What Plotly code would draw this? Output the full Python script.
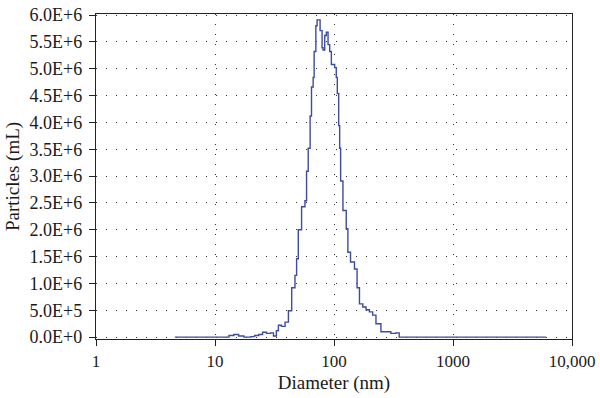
import plotly.graph_objects as go

# Diameter (nm) and particle concentration (millions per mL)
diameter_nm = [4.6, 12.0, 13.1, 14.4, 15.8, 17.5, 20.0, 21.5, 23.3, 25.1,
               27.1, 29.3, 31.0, 32.8, 34.1, 36.2, 38.8, 41.4, 44.1, 47.0,
               48.5, 50.1, 53.4, 57.0, 58.8, 60.7, 63.0, 64.7, 66.8, 68.1,
               70.4, 72.1, 74.2, 76.4, 79.4, 80.9, 83.6, 86.2, 89.1, 92.0,
               95.0, 101.3, 104.5, 106.6, 109.5, 111.6, 113.7, 118.9, 126.7, 130.8,
               137.7, 148.6, 156.3, 163.7, 174.6, 185.9, 198.3, 211.3, 225.2, 247.9,
               272.9, 300.4, 330.6, 353.0, 501.0, 6050.0]
particles_millions = [0, 0, 0.03, 0.05, 0.02, 0, 0.01, 0.03, 0.05, 0.09,
                      0.07, 0.08, 0.02, 0.12, 0.22, 0.20, 0.28, 0.49, 0.92, 1.15,
                      1.46, 2.00, 2.43, 2.54, 3.09, 3.52, 4.12, 4.66, 4.84, 5.32,
                      5.80, 5.91, 5.91, 5.71, 5.39, 5.35, 5.62, 5.68, 5.45, 5.32,
                      5.08, 5.02, 4.84, 4.54, 3.94, 3.52, 2.91, 2.36, 2.02, 1.58,
                      1.40, 1.27, 0.92, 0.62, 0.56, 0.51, 0.47, 0.41, 0.25, 0.10,
                      0.10, 0.07, 0.08, 0.0, 0.0, 0.0]

x_tick_vals = [1, 10, 100, 1000, 10000]
x_tick_text = ["1", "10", "100", "1000", "10,000"]
y_tick_vals = [0, 0.5, 1.0, 1.5, 2.0, 2.5, 3.0, 3.5, 4.0, 4.5, 5.0, 5.5, 6.0]
y_tick_text = ["0.0E+0", "5.0E+5", "1.0E+6", "1.5E+6", "2.0E+6", "2.5E+6", "3.0E+6",
               "3.5E+6", "4.0E+6", "4.5E+6", "5.0E+6", "5.5E+6", "6.0E+6"]

FONT = "Liberation Serif, Times New Roman, serif"

fig = go.Figure()
fig.add_trace(go.Scatter(
    x=diameter_nm, y=particles_millions, mode="lines",
    line=dict(color="#3d4c9e", width=1.4, shape="hv"),
    showlegend=False, hoverinfo="skip"))

fig.update_layout(
    width=600, height=398,
    margin=dict(l=96, r=22, t=5, b=59),
    paper_bgcolor="white", plot_bgcolor="white",
    font=dict(family=FONT, size=17, color="#1a1a1a"),
)
fig.update_xaxes(
    type="log", range=[0, 4],
    tickvals=x_tick_vals, ticktext=x_tick_text,
    tickfont=dict(size=17), ticklabeloverflow="allow",
    ticks="outside", ticklen=6, tickwidth=1.2, tickcolor="#222222",
    showline=True, linecolor="#222222", linewidth=1.3, mirror=True,
    showgrid=True, gridcolor="#333333", gridwidth=1, griddash="1px,9px",
    zeroline=False,
    title=dict(text="Diameter (nm)", standoff=6, font=dict(size=19)),
)
fig.update_yaxes(
    range=[-0.035, 6.02],
    tickvals=y_tick_vals, ticktext=y_tick_text,
    tickfont=dict(size=18), ticklabeloverflow="allow",
    ticks="outside", ticklen=6, tickwidth=1.2, tickcolor="#222222",
    ticklabelstandoff=3,
    showline=True, linecolor="#222222", linewidth=1.3, mirror=True,
    showgrid=True, gridcolor="#333333", gridwidth=1, griddash="1px,9px",
    zeroline=False,
    title=dict(text="Particles (mL)", standoff=4, font=dict(size=19)),
)

fig.write_html("out.html")
